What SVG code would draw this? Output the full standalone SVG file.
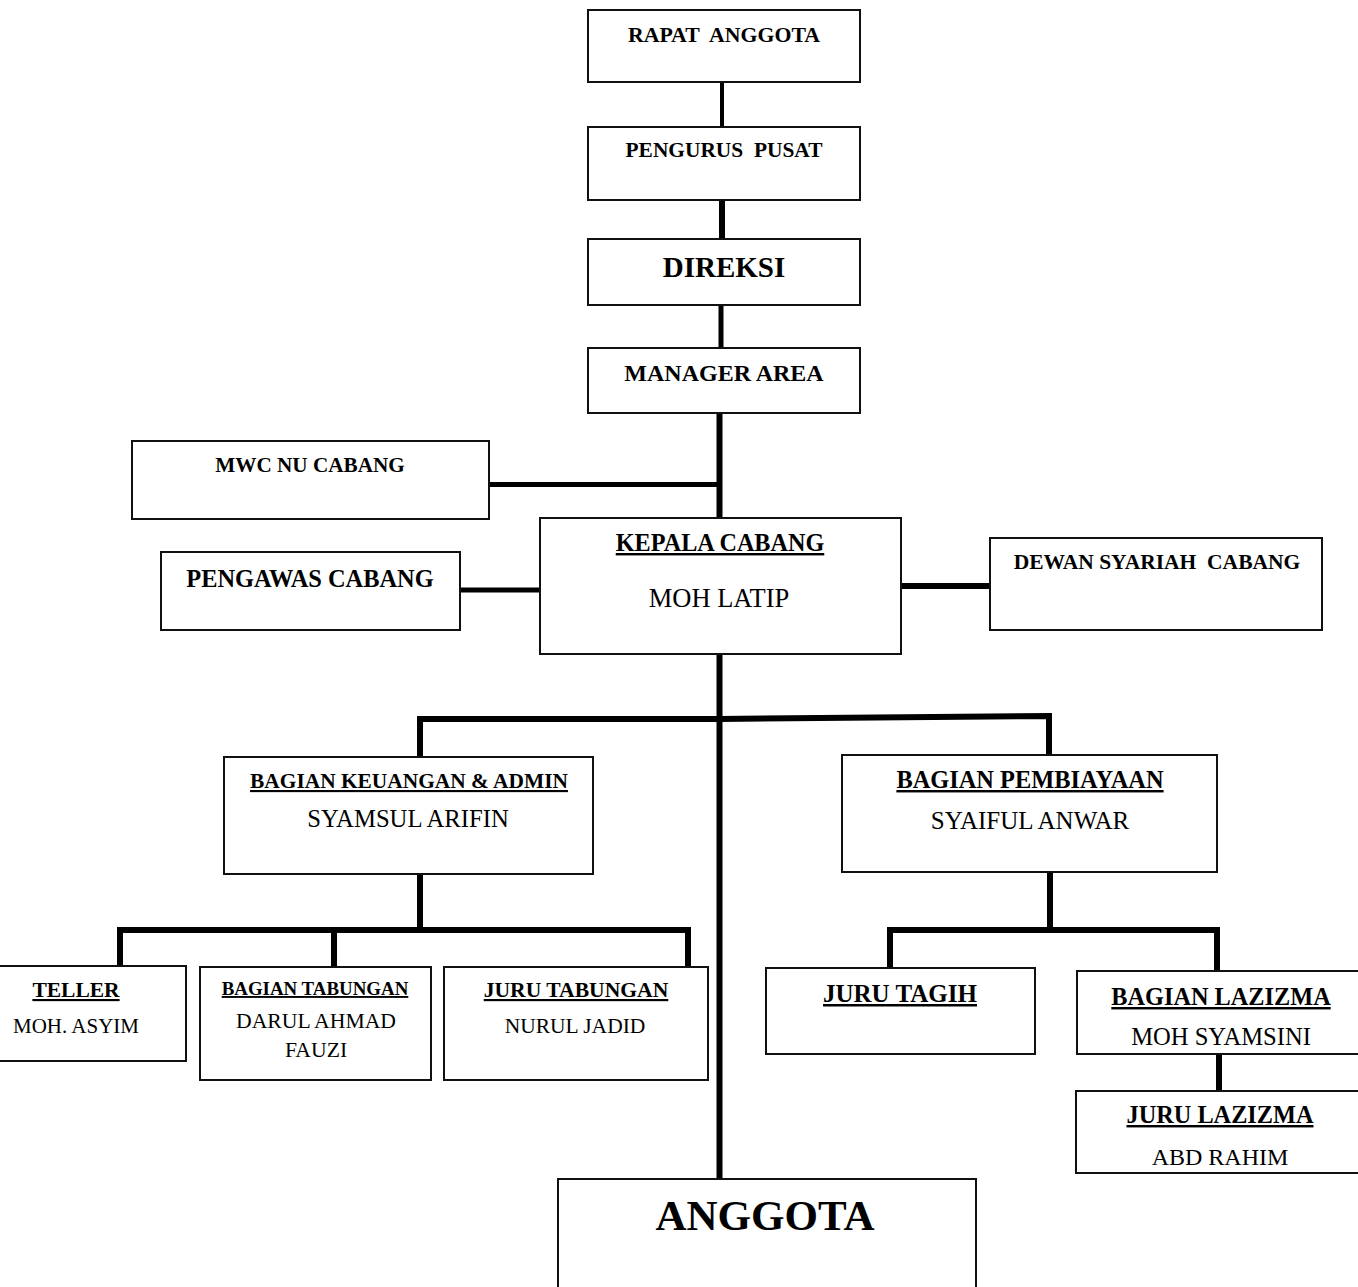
<svg xmlns="http://www.w3.org/2000/svg" width="1358" height="1287" viewBox="0 0 1358 1287">
<style>
.box{fill:#fff;stroke:#111;stroke-width:2}
.c{stroke:#000;fill:none;stroke-linecap:butt;stroke-linejoin:miter}
text{font-family:"Liberation Serif","Times New Roman",serif;fill:#000;text-anchor:middle}
.b{font-weight:bold}
.u{text-decoration:underline}
</style>
<rect width="1358" height="1287" fill="#fff"/>
<g id="connectors">
<line class="c" x1="722" y1="82" x2="722" y2="127" stroke-width="4"/>
<line class="c" x1="722" y1="200" x2="722" y2="239" stroke-width="6"/>
<line class="c" x1="721" y1="305" x2="721" y2="348" stroke-width="5"/>
<line class="c" x1="719.5" y1="413" x2="719.5" y2="518" stroke-width="6"/>
<line class="c" x1="489" y1="484.5" x2="719" y2="484.5" stroke-width="5"/>
<line class="c" x1="460" y1="590" x2="540" y2="590" stroke-width="5"/>
<line class="c" x1="901" y1="586" x2="990" y2="586" stroke-width="6"/>
<line class="c" x1="719.5" y1="654" x2="719.5" y2="1179" stroke-width="6"/>
<polyline class="c" points="420,757 420,719 719,719 1049,716 1049,755" stroke-width="6"/>
<line class="c" x1="420" y1="874" x2="420" y2="930" stroke-width="6"/>
<polyline class="c" points="120,967 120,930 688,930 688,967" stroke-width="6"/>
<line class="c" x1="334" y1="930" x2="334" y2="967" stroke-width="6"/>
<line class="c" x1="1050" y1="872" x2="1050" y2="930" stroke-width="6"/>
<polyline class="c" points="890,968 890,930 1217,930 1217,971" stroke-width="6"/>
<line class="c" x1="1219" y1="1054" x2="1219" y2="1091" stroke-width="6"/>
</g>
<g id="rapat-anggota"><rect class="box" x="588" y="10" width="272" height="72"/><text class="b" x="724" y="42" font-size="21.8" xml:space="preserve">RAPAT  ANGGOTA</text></g>
<g id="pengurus-pusat"><rect class="box" x="588" y="127" width="272" height="73"/><text class="b" x="724" y="157" font-size="21.4" xml:space="preserve">PENGURUS  PUSAT</text></g>
<g id="direksi"><rect class="box" x="588" y="239" width="272" height="66"/><text class="b" x="724" y="277" font-size="29">DIREKSI</text></g>
<g id="manager-area"><rect class="box" x="588" y="348" width="272" height="65"/><text class="b" x="724" y="381" font-size="24">MANAGER AREA</text></g>
<g id="mwc-nu-cabang"><rect class="box" x="132" y="441" width="357" height="78"/><text class="b" x="310" y="472" font-size="21.2">MWC NU CABANG</text></g>
<g id="pengawas-cabang"><rect class="box" x="161" y="552" width="299" height="78"/><text class="b" x="310" y="587" font-size="24.4">PENGAWAS CABANG</text></g>
<g id="kepala-cabang"><rect class="box" x="540" y="518" width="361" height="136"/><text class="b u" x="720" y="551" font-size="24.2">KEPALA CABANG</text><text x="719" y="607" font-size="26.5">MOH LATIP</text></g>
<g id="dewan-syariah-cabang"><rect class="box" x="990" y="538" width="332" height="92"/><text class="b" x="1157" y="569" font-size="21.5" xml:space="preserve">DEWAN SYARIAH  CABANG</text></g>
<g id="bagian-keuangan"><rect class="box" x="224" y="757" width="369" height="117"/><text class="b u" x="409" y="788" font-size="21.4">BAGIAN KEUANGAN &amp; ADMIN</text><text x="408" y="827" font-size="24.7">SYAMSUL ARIFIN</text></g>
<g id="bagian-pembiayaan"><rect class="box" x="842" y="755" width="375" height="117"/><text class="b u" x="1030" y="788" font-size="24.4">BAGIAN PEMBIAYAAN</text><text x="1030" y="829" font-size="25">SYAIFUL ANWAR</text></g>
<g id="teller"><rect class="box" x="-2" y="966" width="188" height="95"/><text class="b u" x="76" y="997" font-size="21.5">TELLER</text><text x="76" y="1033" font-size="21">MOH. ASYIM</text></g>
<g id="bagian-tabungan"><rect class="box" x="200" y="967" width="231" height="113"/><text class="b u" x="315" y="995" font-size="18.9">BAGIAN TABUNGAN</text><text x="316" y="1028" font-size="21.7">DARUL AHMAD</text><text x="316" y="1057" font-size="21.7">FAUZI</text></g>
<g id="juru-tabungan"><rect class="box" x="444" y="967" width="264" height="113"/><text class="b u" x="576" y="997" font-size="21.6">JURU TABUNGAN</text><text x="575" y="1033" font-size="21.5">NURUL JADID</text></g>
<g id="juru-tagih"><rect class="box" x="766" y="968" width="269" height="86"/><text class="b u" x="900" y="1002" font-size="25">JURU TAGIH</text></g>
<g id="bagian-lazizma"><rect class="box" x="1077" y="971" width="285" height="83"/><text class="b u" x="1221" y="1005" font-size="24.3">BAGIAN LAZIZMA</text><text x="1221" y="1045" font-size="24.6">MOH SYAMSINI</text></g>
<g id="juru-lazizma"><rect class="box" x="1076" y="1091" width="286" height="82"/><text class="b u" x="1220" y="1123" font-size="24.3">JURU LAZIZMA</text><text x="1220" y="1165" font-size="24">ABD RAHIM</text></g>
<g id="anggota"><rect class="box" x="558" y="1179" width="418" height="115"/><text class="b" x="765" y="1230" font-size="43">ANGGOTA</text></g>
</svg>
